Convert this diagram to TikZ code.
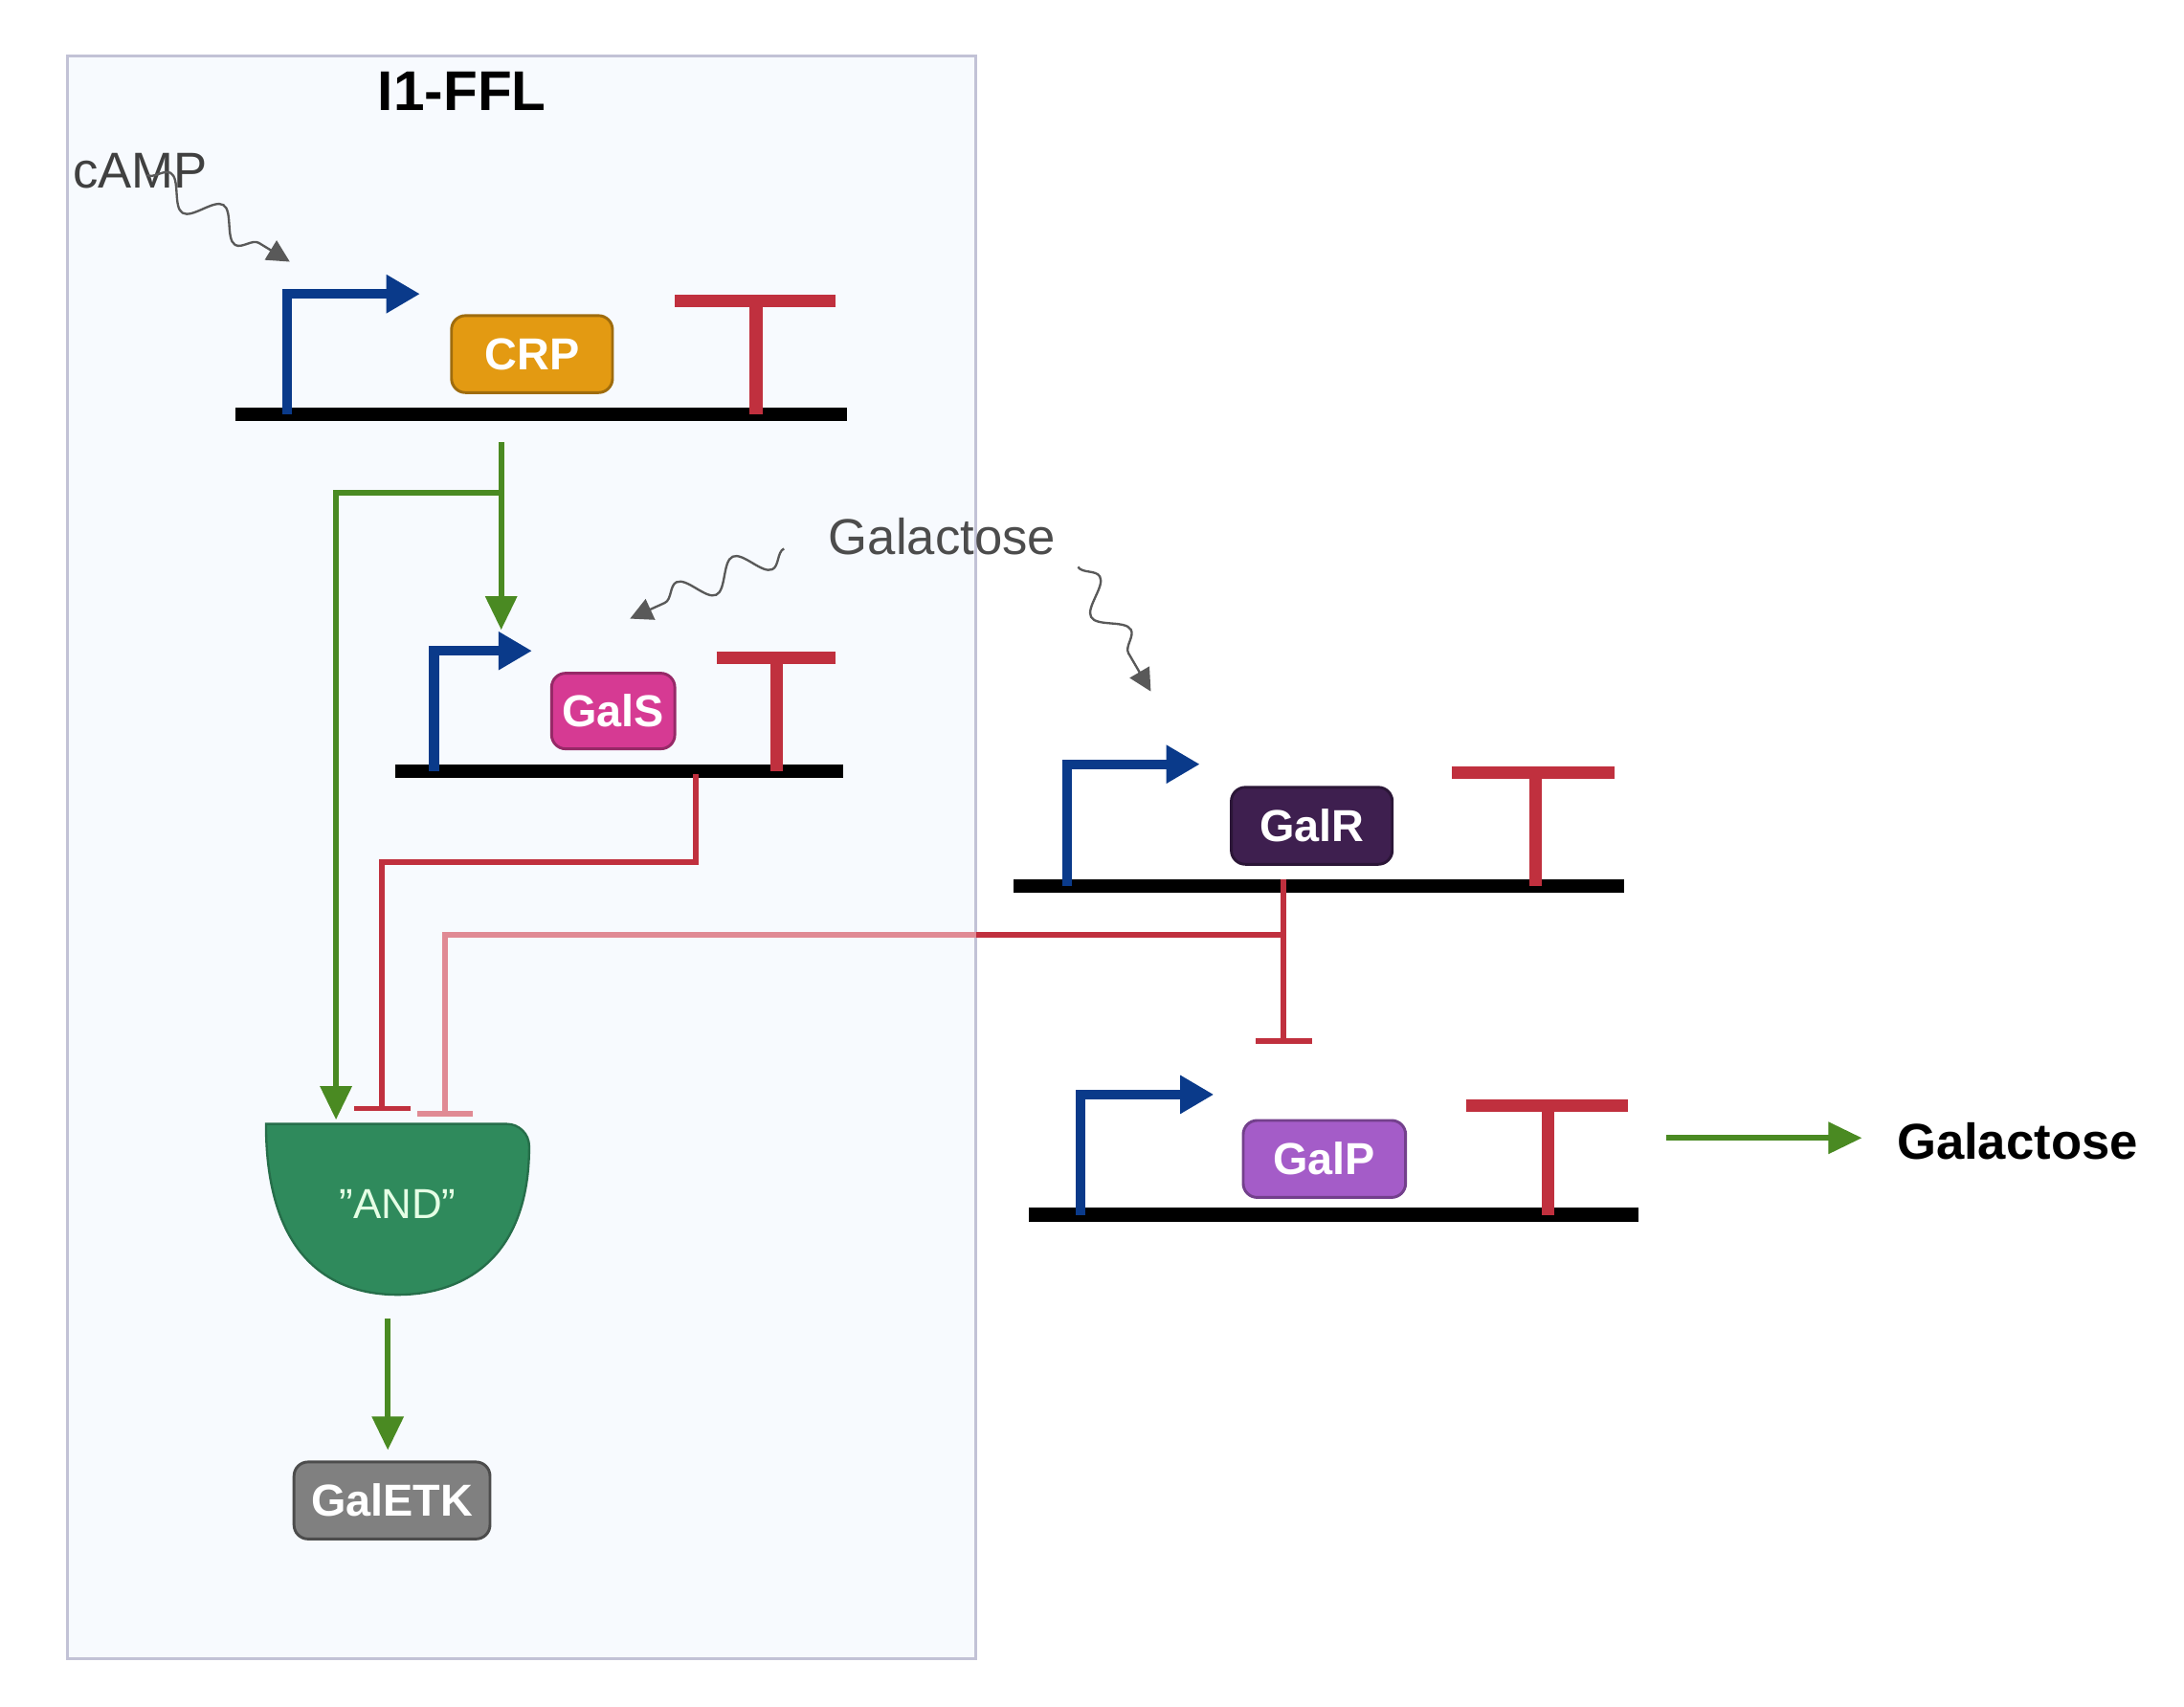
\documentclass[tikz,border=0pt]{standalone}
\usepackage{fontspec}
\setmainfont{Liberation Sans}
\usetikzlibrary{arrows.meta,decorations.pathmorphing}
\definecolor{pblue}{HTML}{0A3A8A}
\definecolor{tred}{HTML}{C0303E}
\definecolor{lred}{HTML}{E08A94}
\definecolor{agreen}{HTML}{4A8A22}
\definecolor{andg}{HTML}{2F8A5C}
\definecolor{bgbox}{HTML}{F7FAFE}
\definecolor{crpc}{HTML}{E39A12}
\definecolor{galsc}{HTML}{D63A93}
\definecolor{galrc}{HTML}{3E1F4F}
\definecolor{galpc}{HTML}{A45CC8}
\definecolor{etkc}{HTML}{808080}
\begin{document}
\begin{tikzpicture}[x=0.5pt,y=-0.5pt,
  dna/.style={line width=5pt,black},
  prom/.style={line width=3.5pt,pblue,-{Triangle[length=12pt,width=13pt]}},
  term/.style={line width=4.5pt,tred},
  gene/.style={draw=#1!70!black,line width=1pt,fill=#1,rounded corners=5pt,text=white,font=\bfseries\fontsize{16}{18}\selectfont,inner sep=0pt},
  act/.style={line width=2pt,agreen,-{Triangle[length=12pt,width=11pt]}},
  inh/.style={line width=2pt,tred,-{Bar[width=20pt,line width=2pt]}},
  wave/.style={gray!70!black,line width=0.8pt,decorate,decoration={snake,amplitude=5pt,segment length=22pt,post length=8pt},-{Triangle[length=8pt,width=8pt]}},
  lab/.style={font=\fontsize{18}{21}\selectfont}]
\useasboundingbox (0,0) rectangle (1560,1219);
\node[draw=blue!20!gray!40,line width=1pt,fill=bgbox,minimum width=324.5pt,minimum height=572.5pt,inner sep=0pt] (box) at (372.5,612.5) {};
\node[font=\bfseries\fontsize{20}{22}\selectfont] (title) at (330,65) {I1-FFL};
% CRP gene
\coordinate (c1) at (168,296); \coordinate (c2) at (605,296);
\draw[dna] (c1) -- (c2);
\coordinate (cp) at (205,296); \coordinate (cpe) at (300,210);
\draw[prom] (cp) |- (cpe);
\coordinate (ct) at (540,296); \coordinate (ctl) at (482,215); \coordinate (ctr) at (597,215);
\draw[term] (ct) -- (540,215) (ctl) -- (ctr);
\node[gene=crpc,minimum width=57.5pt,minimum height=27.5pt] (crp) at (380,253) {CRP};
% cAMP
\node[lab,text=black!75] (camp) at (100,122) {cAMP};
\coordinate (campe) at (207,187);
\draw[wave] (105,125) -- (campe);
% GalS gene
\draw[dna] (282,551) -- (602,551);
\coordinate (sp) at (310,551); \coordinate (spe) at (380,465);
\draw[prom] (sp) |- (spe);
\draw[term] (555,551) -- (555,470) (512,470) -- (597,470);
\node[gene=galsc,minimum width=44pt,minimum height=27pt] (gals) at (438,508) {GalS};
% Galactose label + waves
\node[lab,text=black!70] (gal1) at (673,383) {Galactose};
\coordinate (w1e) at (450,442); \coordinate (w2e) at (822,494);
\draw[wave] (560,392) -- (w1e);
\draw[wave] (770,405) -- (w2e);
% GalR gene
\draw[dna] (724,633) -- (1160,633);
\coordinate (rp) at (762,633); \coordinate (rpe) at (857,546);
\draw[prom] (rp) |- (rpe);
\draw[term] (1097,633) -- (1097,552) (1037,552) -- (1153,552);
\node[gene=galrc,minimum width=57.5pt,minimum height=27.5pt] (galr) at (937,590) {GalR};
% GalP gene
\draw[dna] (735,868) -- (1170,868);
\coordinate (pp) at (772,868); \coordinate (ppe) at (867,782);
\draw[prom] (pp) |- (ppe);
\draw[term] (1106,868) -- (1106,790) (1047,790) -- (1163,790);
\node[gene=galpc,minimum width=58pt,minimum height=27.5pt] (galp) at (946,828) {GalP};
% AND gate
\path[fill=andg,draw=andg!80!black,line width=0.8pt,rounded corners=8pt] (190,803) -- (378,803) [sharp corners] .. controls (378,900) and (330,925) .. (284,925) .. controls (238,925) and (190,900) .. (190,803) -- cycle;
\node[text=white!90!green,font=\fontsize{15}{17}\selectfont] (and) at (284,860) {\char34 AND\char34};
% GalETK
\node[gene=etkc,draw=black!70,minimum width=70pt,minimum height=27.5pt] (galetk) at (280,1072) {GalETK};
% activations
\coordinate (a0) at (358,316); \coordinate (a1) at (358,352); \coordinate (a2) at (358,450);
\coordinate (a3) at (240,800);
\draw[act] (a0) -- (a2);
\draw[act] (a1) -| (a3);
\coordinate (g0) at (277,942); \coordinate (g1) at (277,1036);
\draw[act] (g0) -- (g1);
\coordinate (o0) at (1190,813); \coordinate (o1) at (1330,813);
\draw[act] (o0) -- (o1);
\node[font=\bfseries\fontsize{18}{21}\selectfont] (gal2) at (1441,815) {Galactose};
% inhibitions
\coordinate (s0) at (497,553); \coordinate (s1) at (497,616); \coordinate (s2) at (273,794);
\draw[inh] (s0) -- (s1) -| (s2);
\coordinate (r0) at (917,628); \coordinate (r1) at (917,668); \coordinate (r2) at (917,746);
\coordinate (rb) at (697,668); \coordinate (r3) at (318,798);
\draw[inh] (r0) -- (r2);
\draw[line width=2pt,tred] (r1) -- (rb);
\draw[line width=2pt,lred,-{Bar[width=20pt,line width=2pt]}] (rb) -| (r3);
\end{tikzpicture}
\end{document}
